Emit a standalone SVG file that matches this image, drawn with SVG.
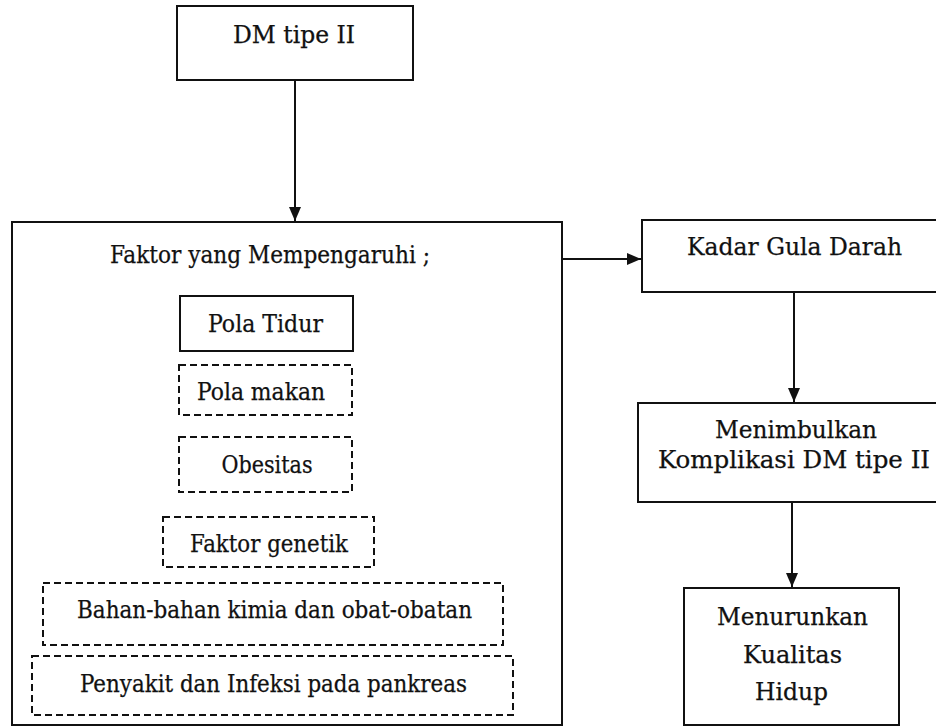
<svg xmlns="http://www.w3.org/2000/svg" width="936" height="727" viewBox="0 0 936 727">
<style>
.box{fill:none;stroke:#111;stroke-width:2}
.dash{fill:none;stroke:#111;stroke-width:2;stroke-dasharray:7 4}
.t{font-family:'DejaVu Serif Condensed','DejaVu Serif',serif;font-size:25px;fill:#111;text-anchor:middle;stroke:#111;stroke-width:0.25}
.c{stroke:#111;stroke-width:2;fill:none}
</style>
<defs>
<marker id="ah" viewBox="0 0 14 12" refX="14" refY="6" markerWidth="14" markerHeight="12" markerUnits="userSpaceOnUse" orient="auto">
<path d="M0,0 L14,6 L0,12 z" fill="#111"/>
</marker>
</defs>
<rect width="936" height="727" fill="#fff"/>
<g id="connectors">
<line class="c" x1="295" y1="80" x2="295" y2="221" marker-end="url(#ah)"/>
<line class="c" x1="562" y1="259" x2="641" y2="259" marker-end="url(#ah)"/>
<line class="c" x1="794" y1="292" x2="794" y2="402" marker-end="url(#ah)"/>
<line class="c" x1="792" y1="502" x2="792" y2="587" marker-end="url(#ah)"/>
</g>
<g id="dm">
<rect class="box" x="177" y="6" width="236" height="74"/>
<text class="t" x="294" y="43" textLength="122" lengthAdjust="spacingAndGlyphs">DM tipe II</text>
</g>
<g id="faktor">
<rect class="box" x="12" y="222" width="550" height="503"/>
<text class="t" x="270" y="263" textLength="320" lengthAdjust="spacingAndGlyphs">Faktor yang Mempengaruhi ;</text>
</g>
<g id="pola-tidur">
<rect class="box" x="180" y="296" width="173" height="55"/>
<text class="t" x="265.5" y="332" textLength="115" lengthAdjust="spacingAndGlyphs">Pola Tidur</text>
</g>
<g id="pola-makan">
<rect class="dash" x="179" y="365" width="173" height="50"/>
<text class="t" x="261" y="400" textLength="128" lengthAdjust="spacingAndGlyphs">Pola makan</text>
</g>
<g id="obesitas">
<rect class="dash" x="179" y="437" width="173" height="55"/>
<text class="t" x="267" y="473" textLength="91" lengthAdjust="spacingAndGlyphs">Obesitas</text>
</g>
<g id="genetik">
<rect class="dash" x="163" y="517" width="211" height="50"/>
<text class="t" x="269" y="552" textLength="158" lengthAdjust="spacingAndGlyphs">Faktor genetik</text>
</g>
<g id="bahan">
<rect class="dash" x="43" y="583" width="460" height="62"/>
<text class="t" x="274.5" y="618" textLength="395" lengthAdjust="spacingAndGlyphs">Bahan-bahan kimia dan obat-obatan</text>
</g>
<g id="penyakit">
<rect class="dash" x="32" y="656" width="481" height="59"/>
<text class="t" x="273.5" y="692" textLength="387" lengthAdjust="spacingAndGlyphs">Penyakit dan Infeksi pada pankreas</text>
</g>
<g id="kadar">
<rect class="box" x="642" y="220" width="310" height="72"/>
<text class="t" x="794.5" y="255" textLength="215" lengthAdjust="spacingAndGlyphs">Kadar Gula Darah</text>
</g>
<g id="komplikasi">
<rect class="box" x="638" y="403" width="314" height="99"/>
<text class="t" x="796" y="438" textLength="162" lengthAdjust="spacingAndGlyphs">Menimbulkan</text>
<text class="t" x="794" y="468" textLength="272" lengthAdjust="spacingAndGlyphs">Komplikasi DM tipe II</text>
</g>
<g id="kualitas">
<rect class="box" x="684" y="588" width="215" height="137"/>
<text class="t" x="792.5" y="625" textLength="151" lengthAdjust="spacingAndGlyphs">Menurunkan</text>
<text class="t" x="792.5" y="663" textLength="99" lengthAdjust="spacingAndGlyphs">Kualitas</text>
<text class="t" x="791.5" y="700" textLength="73" lengthAdjust="spacingAndGlyphs">Hidup</text>
</g>
</svg>
